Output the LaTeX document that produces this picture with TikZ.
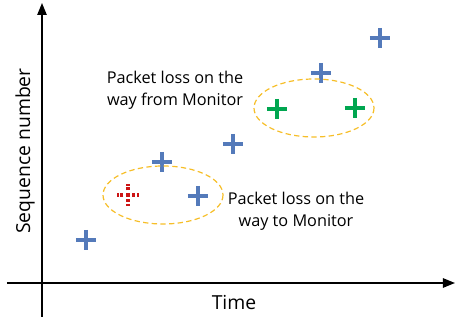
\documentclass[tikz,border=0pt]{standalone}
\usepackage{fontspec}
\setmainfont{Open Sans}
\usetikzlibrary{arrows.meta}
\definecolor{seqblue}{RGB}{84,122,186}
\definecolor{lossgreen}{RGB}{0,166,80}
\definecolor{lossred}{RGB}{204,20,20}
\definecolor{ringyellow}{RGB}{246,190,40}

\begin{document}
\begin{tikzpicture}[x=0.75pt, y=-0.75pt,
  axis/.style={line width=1.2pt, -{Triangle[length=9pt, width=7pt]}},
  ring/.style={draw=ringyellow, line width=0.9pt, dash pattern=on 4pt off 2.5pt},
  note/.style={align=center, font=\fontsize{12.2}{16.5}\selectfont},
  axislabel/.style={font=\fontsize{14.5}{17}\selectfont},
  plusmark/.pic={\draw[line width=2.4pt, line cap=butt] (-10,0) -- (10,0) (0,-10) -- (0,10);}]
  \useasboundingbox (0,0) rectangle (455,320);

  % axes
  \coordinate (xstart) at (7,283);
  \coordinate (xend) at (455,283);
  \coordinate (ystart) at (42,317);
  \coordinate (yend) at (42,3);
  \draw[axis] (xstart) -- (xend);
  \draw[axis] (ystart) -- (yend);
  \node[axislabel] (timelbl) at (234,303) {Time};
  \node[axislabel, rotate=90] (seqlbl) at (25,151) {Sequence number};

  % received packets
  \foreach \px/\py in {86/240, 162/162, 198/196, 233/144, 321/73, 380/38}
    \pic[seqblue] at (\px,\py) {plusmark};

  % lost on the way from the monitor
  \foreach \px/\py in {277/109, 355/108}
    \pic[lossgreen] at (\px,\py) {plusmark};

  % lost on the way to the monitor: dotted cross
  \coordinate (lost) at (128,195);
  \fill[lossred] ([shift={(-2,-2)}]lost) rectangle ([shift={(2,2)}]lost);
  \foreach \ang in {0,90,180,270}
    \draw[lossred, line width=2.4pt, rotate around={\ang:(lost)}]
      ([shift={(4.5,0)}]lost) -- ([shift={(7.5,0)}]lost)
      ([shift={(9,0)}]lost) -- ([shift={(11,0)}]lost);

  % loss regions
  \draw[ring] (163,195) ellipse [x radius=60, y radius=29];
  \draw[ring] (314,108) ellipse [x radius=60, y radius=29];

  \node[note] (fromlbl) at (175,90) {Packet loss on the\\way from Monitor};
  \node[note] (tolbl) at (296,211) {Packet loss on the\\way to Monitor};
\end{tikzpicture}
\end{document}
